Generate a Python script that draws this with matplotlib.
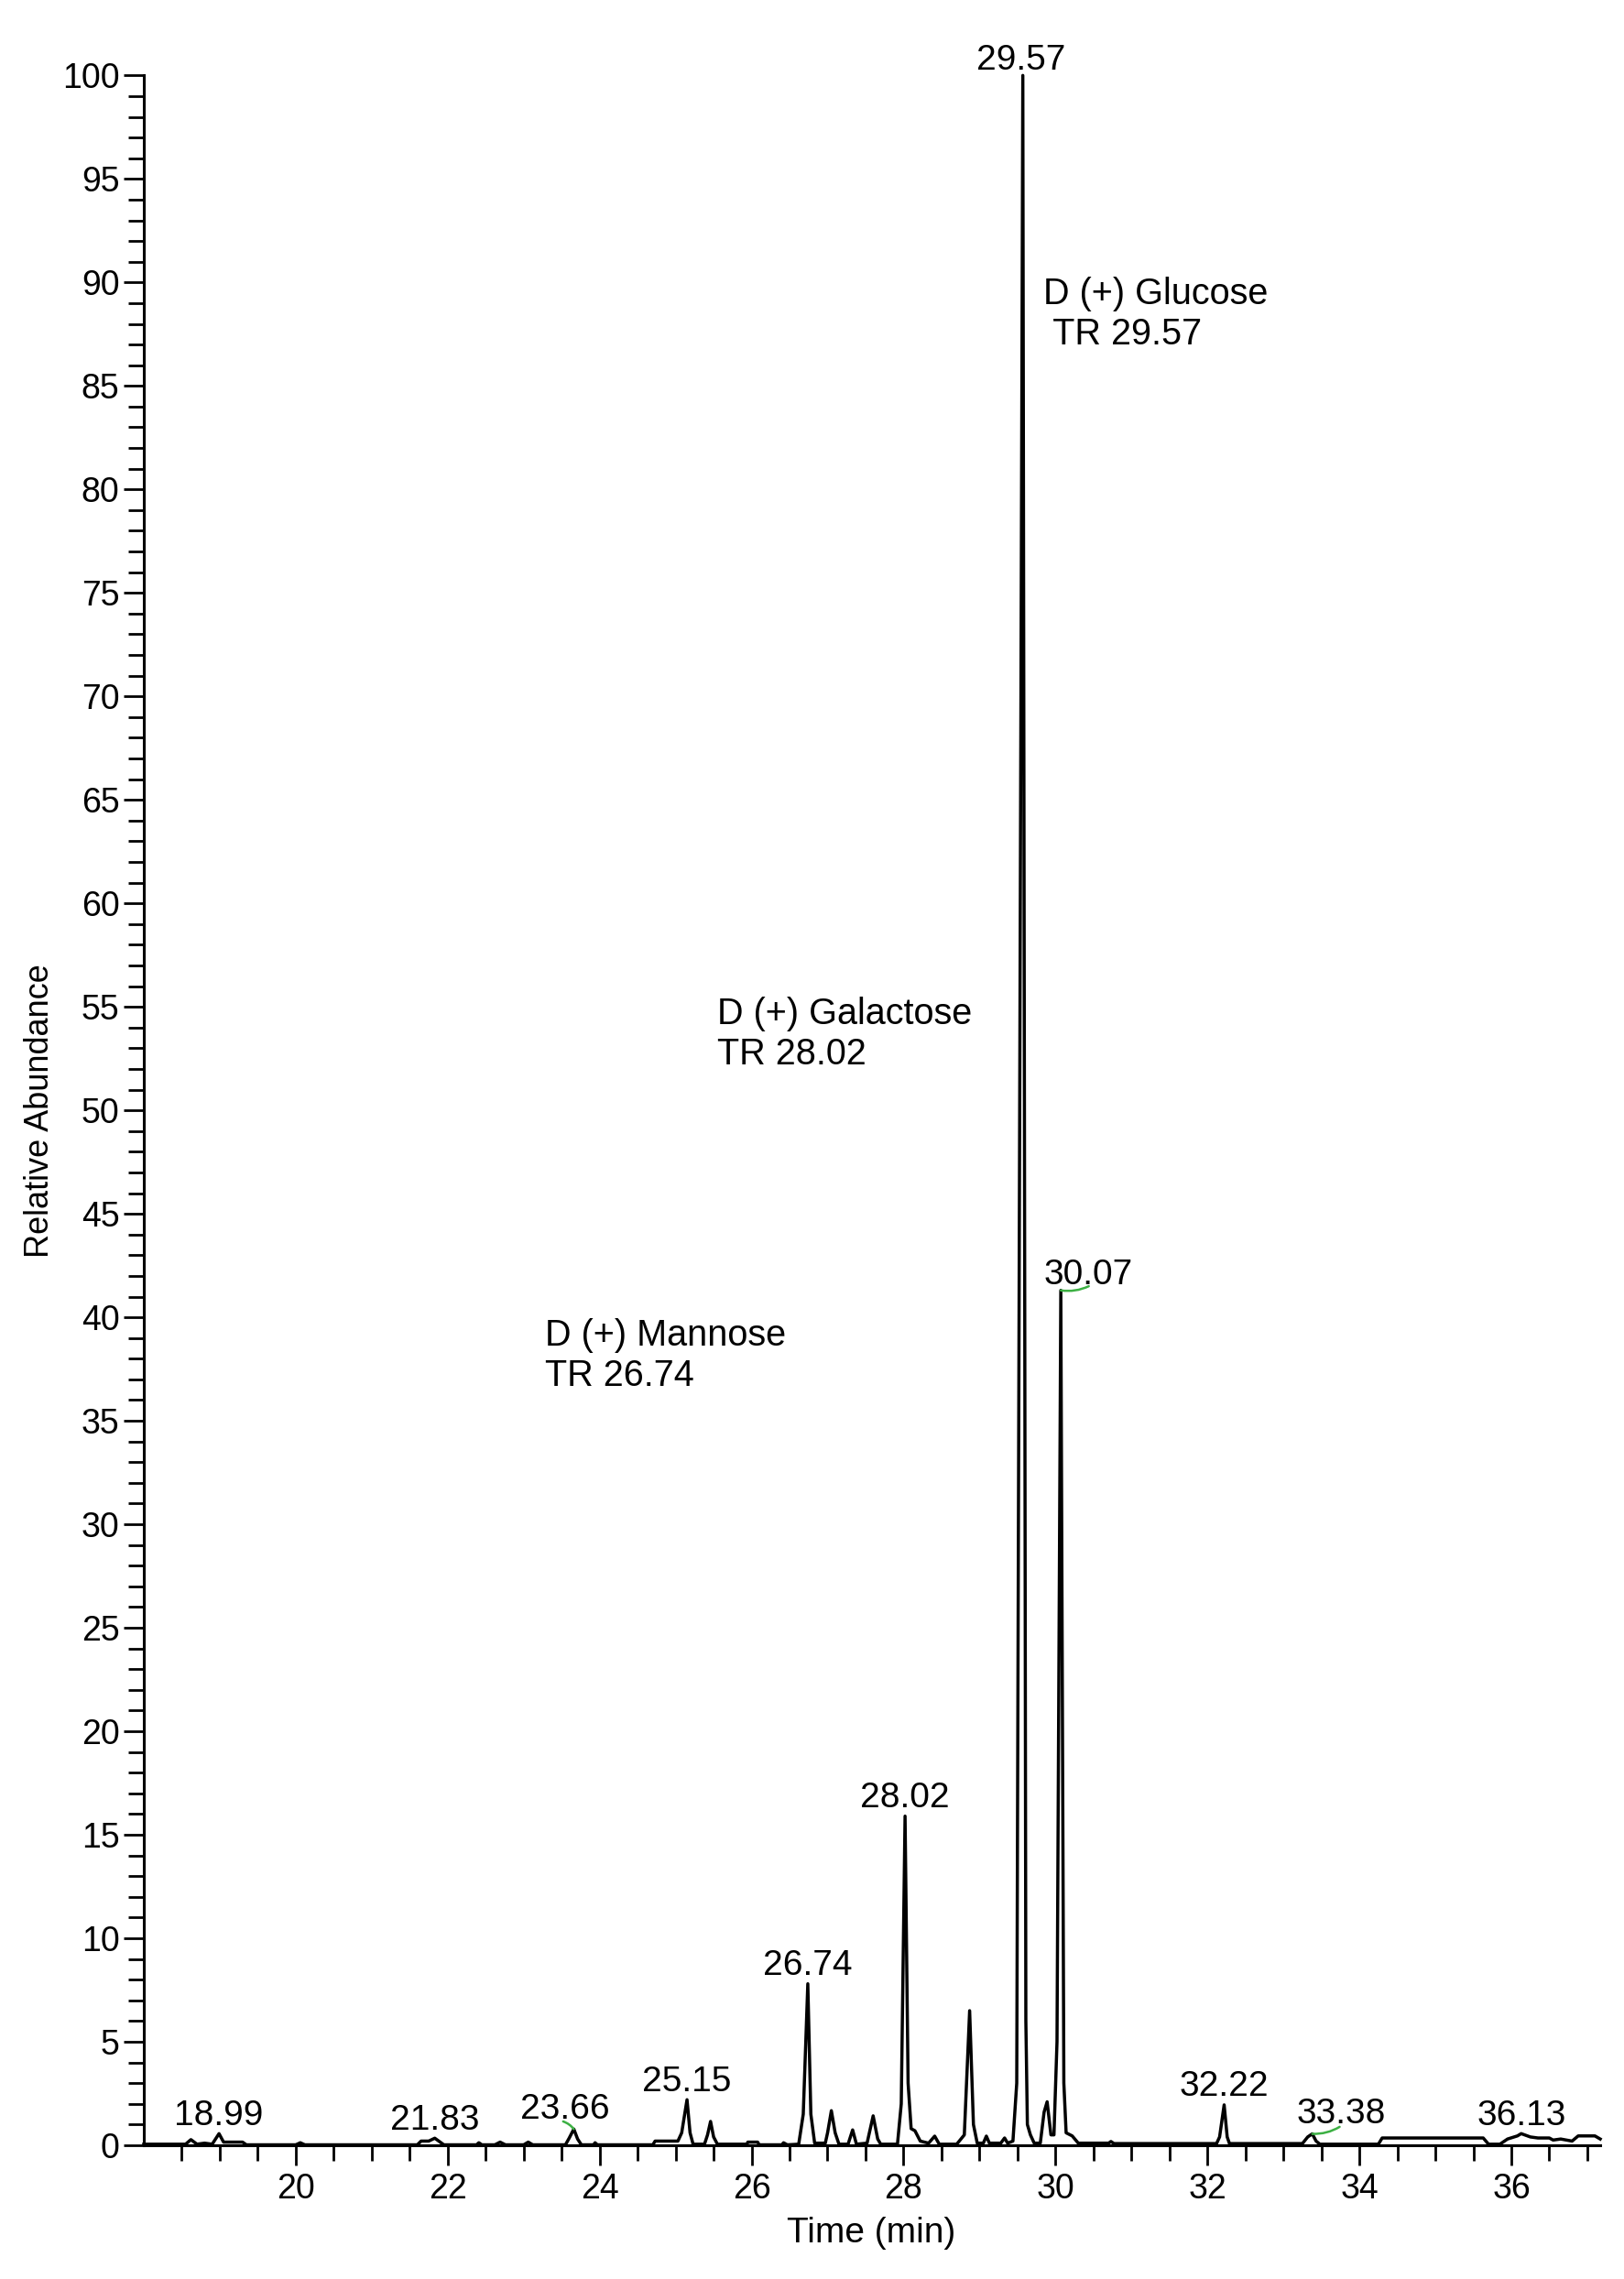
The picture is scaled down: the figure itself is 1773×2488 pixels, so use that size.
import matplotlib
matplotlib.use("Agg")
import matplotlib.pyplot as plt
import numpy as np

plt.rcParams['font.family'] = ['Liberation Sans', 'DejaVu Sans']

# chromatogram trace (time in min, relative abundance)
trace_time = [
    18.0, 18.55, 18.62, 18.7, 18.8, 18.9, 18.99, 19.05, 19.3, 19.35,
    20.0, 20.06, 20.12, 21.6, 21.65, 21.75, 21.83, 21.9, 21.95,
    22.38, 22.41, 22.45, 22.62, 22.69, 22.76, 23.0, 23.06, 23.12,
    23.55, 23.6, 23.66, 23.71, 23.76, 23.92, 23.94, 23.97,
    24.7, 24.73, 25.03, 25.08, 25.15, 25.19, 25.23, 25.38, 25.42, 25.46, 25.5, 25.55,
    25.94, 25.95, 26.08, 26.1, 26.4, 26.42, 26.47,
    26.62, 26.68, 26.74, 26.78, 26.83, 26.97, 27.0, 27.05, 27.1, 27.15,
    27.27, 27.33, 27.38, 27.52, 27.6, 27.66, 27.7,
    27.92, 27.97, 28.02, 28.06, 28.1, 28.15, 28.22, 28.33, 28.41, 28.47,
    28.7, 28.8, 28.87, 28.92, 28.97, 29.05, 29.09, 29.13, 29.28, 29.33, 29.37,
    29.44, 29.49, 29.57, 29.61, 29.63, 29.67, 29.72, 29.8, 29.85, 29.89, 29.94,
    29.98, 30.02, 30.07, 30.11, 30.14, 30.22, 30.3,
    30.7, 30.73, 30.77, 32.12, 32.16, 32.22, 32.26, 32.29,
    33.25, 33.32, 33.38, 33.43, 33.48, 34.25, 34.3, 35.63, 35.7, 35.85,
    35.95, 36.08, 36.13, 36.25, 36.35, 36.5, 36.55, 36.65, 36.8, 36.88, 37.1, 37.17,
]
trace_abund = [
    0.05, 0.05, 0.27, 0.05, 0.1, 0.05, 0.56, 0.15, 0.15, 0.02,
    0.02, 0.12, 0.02, 0.02, 0.2, 0.2, 0.34, 0.15, 0.02,
    0.02, 0.12, 0.02, 0.02, 0.15, 0.02, 0.02, 0.15, 0.02,
    0.02, 0.35, 0.78, 0.3, 0.02, 0.02, 0.12, 0.02,
    0.02, 0.2, 0.2, 0.6, 2.2, 0.6, 0.05, 0.05, 0.5, 1.15, 0.4, 0.05,
    0.05, 0.15, 0.15, 0.02, 0.02, 0.12, 0.02,
    0.05, 1.5, 7.8, 1.5, 0.1, 0.1, 0.6, 1.67, 0.6, 0.05,
    0.05, 0.74, 0.05, 0.1, 1.42, 0.3, 0.05,
    0.05, 2.0, 15.9, 3.0, 0.8, 0.7, 0.2, 0.1, 0.44, 0.05,
    0.05, 0.5, 6.5, 1.0, 0.1, 0.1, 0.44, 0.1, 0.1, 0.35, 0.1,
    0.2, 3.0, 100.0, 6.0, 1.0, 0.5, 0.1, 0.1, 1.6, 2.1, 0.5,
    0.5, 5.0, 41.3, 3.0, 0.6, 0.45, 0.1,
    0.1, 0.18, 0.08, 0.08, 0.4, 1.95, 0.4, 0.08,
    0.08, 0.4, 0.55, 0.2, 0.05, 0.05, 0.35, 0.35, 0.05, 0.05,
    0.3, 0.45, 0.56, 0.4, 0.35, 0.35, 0.25, 0.3, 0.2, 0.45, 0.45, 0.3,
]

# labelled peaks
peak_labels = ["18.99", "21.83", "23.66", "25.15", "26.74", "28.02",
               "29.57", "30.07", "32.22", "33.38", "36.13"]
shifted_peaks = ["23.66", "30.07", "33.38"]

compounds = ["D (+) Glucose\n TR 29.57", "D (+) Galactose\nTR 28.02", "D (+) Mannose\nTR 26.74"]
compound_pos = [(29.84, 87.0), (25.55, 52.2), (23.28, 36.7)]

x_major = [20, 22, 24, 26, 28, 30, 32, 34, 36]
x_minor = [18.5, 19, 19.5, 20.5, 21, 21.5, 22.5, 23, 23.5, 24.5, 25, 25.5,
           26.5, 27, 27.5, 28.5, 29, 29.5, 30.5, 31, 31.5, 32.5, 33, 33.5,
           34.5, 35, 35.5, 36.5, 37]

fs = 27
green = "#3cb043"

fig = plt.figure(figsize=(17.74, 24.88), dpi=100)
ax = fig.add_axes([0.0885, 0.0587, 0.8963, 0.9082])

ax.plot(trace_time, trace_abund, color="black", lw=2.5, solid_joinstyle="round", clip_on=False)

# peak labels, dx/dy in points
offsets = {"23.66": (-7.2, 8), "30.07": (21.5, 5), "33.38": (22.7, 8), "29.57": (-1.5, 4.3)}
# green connector ends, points from the apex
connectors = {"23.66": (-8.4, 6), "30.07": (22, 3.3), "33.38": (21.5, 5.5)}
for lab in peak_labels:
    rt = float(lab)
    h = np.interp(rt, trace_time, trace_abund)
    dx, dy = offsets.get(lab, (0, 7))
    ax.annotate(lab, xy=(rt, h), xytext=(dx, dy), textcoords="offset points",
                ha="center", va="baseline", fontsize=28)
    if lab in shifted_peaks:
        cx, cy = connectors[lab]
        ax.annotate("", xy=(rt, h), xytext=(cx, cy), textcoords="offset points",
                    arrowprops=dict(arrowstyle="-", color=green, lw=1.8,
                                    shrinkA=0, shrinkB=0,
                                    connectionstyle="arc3,rad=-0.15"))

for txt, (x, y) in zip(compounds, compound_pos):
    ax.text(x, y, txt, ha="left", va="baseline", fontsize=28.5, linespacing=1.2)

ax.set_xlim(18, 37.17)
ax.set_ylim(0, 100)
ax.set_xticks(x_major)
ax.set_xticks(x_minor, minor=True)
ax.set_yticks(np.arange(0, 101, 5))
ax.set_yticks(np.arange(0, 101, 1), minor=True)

for s in ["top", "right"]:
    ax.spines[s].set_visible(False)
for s in ["left", "bottom"]:
    ax.spines[s].set_linewidth(2.2)

ax.tick_params(axis="both", which="major", length=15.8, width=2.0, labelsize=fs, direction="out")
ax.tick_params(axis="both", which="minor", length=12.2, width=2.0, direction="out")
ax.tick_params(axis="x", which="major", pad=5.5)
ax.tick_params(axis="y", which="major", pad=3.2)

ax.set_xlabel("Time (min)", fontsize=28)
ax.set_ylabel("Relative Abundance", fontsize=26)
ax.xaxis.set_label_coords(0.4995, -0.0345)
ax.xaxis.label.set_va("top")
ax.yaxis.set_label_coords(-0.0604, 0.5)

fig.savefig("out.png", dpi=100)
